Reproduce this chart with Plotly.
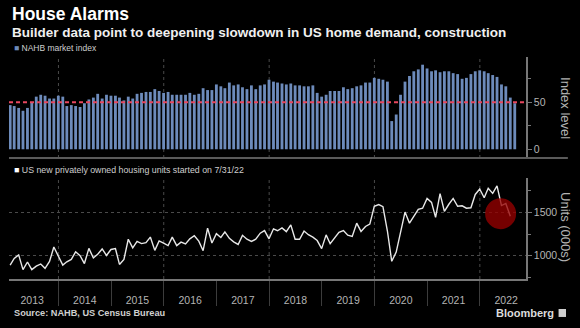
import pandas as pd
import plotly.graph_objects as go

# ---------------- data ----------------
nahb_index = [
    47, 46, 44, 41, 44, 50, 56, 58, 57, 54, 54, 57,   # 2013
    56, 46, 47, 46, 45, 49, 53, 55, 59, 54, 58, 57,   # 2014
    57, 55, 52, 56, 54, 59, 60, 61, 61, 64, 62, 60,   # 2015
    61, 58, 58, 58, 58, 60, 58, 59, 65, 63, 63, 69,   # 2016
    67, 65, 71, 68, 69, 66, 64, 68, 64, 68, 69, 74,   # 2017
    72, 71, 70, 69, 70, 68, 68, 67, 67, 68, 60, 56,   # 2018
    58, 62, 62, 62, 66, 64, 65, 67, 68, 71, 71, 76,   # 2019
    75, 74, 72, 30, 37, 58, 72, 78, 83, 85, 90, 86,   # 2020
    83, 84, 82, 83, 83, 81, 80, 75, 76, 80, 83, 84,   # 2021
    83, 81, 79, 77, 69, 67, 55, 49,                   # 2022
]
housing_starts = [
    892, 969, 1010, 840, 928, 840, 880, 905, 855, 935, 1100, 1005,      # 2013
    892, 930, 958, 1045, 1000, 910, 1085, 975, 1018, 1078, 1003, 1072,  # 2014
    1083, 900, 958, 1190, 1090, 1165, 1140, 1150, 1215, 1062, 1170, 1145,  # 2015
    1117, 1215, 1117, 1157, 1137, 1195, 1230, 1168, 1058, 1318, 1146, 1255,  # 2016
    1210, 1275, 1200, 1160, 1130, 1235, 1190, 1165, 1190, 1260, 1290, 1195,  # 2017
    1310, 1288, 1320, 1278, 1356, 1190, 1190, 1284, 1242, 1214, 1175, 1082,  # 2018
    1240, 1138, 1200, 1270, 1290, 1236, 1222, 1375, 1280, 1337, 1365, 1570,  # 2019
    1590, 1566, 1285, 936, 1042, 1255, 1503, 1375, 1455, 1534, 1547, 1660,   # 2020
    1615, 1442, 1716, 1511, 1593, 1660, 1570, 1575, 1548, 1552, 1706, 1769,  # 2021
    1668, 1777, 1718, 1804, 1578, 1602, 1455,                                # 2022
]
first_month_end = "2013-01-31"
nahb_dates = pd.date_range(first_month_end, periods=len(nahb_index), freq="ME")
starts_dates = pd.date_range(first_month_end, periods=len(housing_starts), freq="ME")

grid_years = ["2014-01-01", "2016-01-01", "2018-01-01", "2020-01-01", "2022-01-01"]
threshold = 50

title = "House Alarms"
subtitle = "Builder data point to deepening slowdown in US home demand, construction"
legend_top = "NAHB market index"
legend_bottom = "US new privately owned housing units started on 7/31/22"
source = "Source: NAHB, US Census Bureau"

# ---------------- style ----------------
BAR = "#6d8bbb"
LINE = "#e8e8e8"
RED = "#e8475f"
GRID = "#4a4a4a"
AXIS = "#777777"
TXT = "#b4b4b4"
FONT = "Liberation Sans, Arial, sans-serif"

fig = go.Figure()
fig.add_trace(go.Bar(x=nahb_dates, y=nahb_index, marker=dict(color=BAR, line_width=0),
                     xaxis="x", yaxis="y", showlegend=False, hoverinfo="skip"))
fig.add_trace(go.Scatter(x=starts_dates, y=housing_starts, mode="lines",
                         line=dict(color=LINE, width=1.4), xaxis="x2", yaxis="y2",
                         showlegend=False, hoverinfo="skip"))

xrange = ["2013-01-23", "2022-11-17"]
fig.update_layout(
    width=580, height=328,
    margin=dict(l=9, r=54, t=57, b=49),
    paper_bgcolor="black", plot_bgcolor="black",
    font=dict(family=FONT, color=TXT, size=10),
    bargap=0.3,
    xaxis=dict(domain=[0, 1], anchor="y", range=xrange, matches="x2",
               showticklabels=False, ticks="", showgrid=False, zeroline=False, showline=False),
    yaxis=dict(domain=[0.545, 1], anchor="x", side="right", range=[-9.3, 98.2],
               tickvals=[0, 50], ticks="outside", ticklen=4, tickcolor=AXIS,
               showline=True, linecolor=AXIS, linewidth=1.5, showgrid=False, zeroline=False,
               tickfont=dict(size=10.5, color=TXT),
               minor=dict(tickvals=[25, 75], ticks="outside", ticklen=3, tickcolor=AXIS)),
    xaxis2=dict(domain=[0, 1], anchor="y2", range=xrange, type="date",
                tick0="2013-01-01", dtick="M12", tickformat="%Y", ticklabelmode="period",
                ticks="outside", ticklen=25, tickcolor="#3c3c3c", tickwidth=1,
                ticklabelstandoff=-14,
                tickfont=dict(size=10.5, color=TXT),
                showline=True, linecolor=AXIS, linewidth=1.5, showgrid=False, zeroline=False),
    yaxis2=dict(domain=[0, 0.4563], anchor="x2", side="right", range=[732, 1899],
                tickvals=[1000, 1500], ticks="outside", ticklen=4, tickcolor=AXIS,
                showline=True, linecolor=AXIS, linewidth=1.5,
                showgrid=True, gridcolor=GRID, griddash="dot", gridwidth=1, zeroline=False,
                tickfont=dict(size=10.5, color=TXT),
                minor=dict(tickvals=[750, 1250, 1750], ticks="outside", ticklen=3,
                           tickcolor=AXIS, showgrid=False)),
)

shapes = []
for g in grid_years:
    for xr, yr in (("x", "y domain"), ("x2", "y2 domain")):
        shapes.append(dict(type="line", xref=xr, yref=yr, x0=g, x1=g, y0=0, y1=1,
                           line=dict(color=GRID, width=1, dash="dot"), layer="below"))
# threshold line at 50
shapes.append(dict(type="line", xref="paper", yref="y", x0=0, x1=1, y0=threshold, y1=threshold,
                   line=dict(color=RED, width=2, dash="4px,3px"), layer="above"))
# separator under top panel
shapes.append(dict(type="line", xref="paper", yref="y domain", x0=0, x1=1.081, y0=0, y1=0,
                   line=dict(color="#5a5a5a", width=2), layer="above"))
# highlight circle
shapes.append(dict(type="circle", xref="x2", yref="y2", xsizemode="pixel", ysizemode="pixel",
                   xanchor="2022-05-25", yanchor=1485, x0=-15.5, x1=15.5, y0=-15.5, y1=15.5,
                   fillcolor="rgba(150,0,0,0.78)", line=dict(width=0), layer="above"))
# bloomberg icon
shapes.append(dict(type="rect", xref="paper", yref="paper", x0=1.063, x1=1.0774, y0=-0.171, y1=-0.135,
                   fillcolor="#cfcfcf", line=dict(width=0)))
fig.update_layout(shapes=shapes)

ann = [
    dict(text="<b>%s</b>" % title, x=0.002, y=1.1937, font=dict(size=17.5, color="white")),
    dict(text="<b>%s</b>" % subtitle, x=0.002, y=1.1126, font=dict(size=13.5, color="#f0f0f0")),
    dict(text='<span style="color:%s">■</span> %s' % (BAR, legend_top), x=0.006, y=1.0405,
         font=dict(size=8.5, color="#cfcfcf")),
    dict(text='<span style="color:white">■</span> %s' % legend_bottom, x=0.006, y=0.491,
         font=dict(size=8.8, color="#cfcfcf")),
    dict(text="<b>%s</b>" % source, x=0.006, y=-0.153, font=dict(size=9.2, color="#d0d0d0")),
    dict(text="<b>Bloomberg</b>", x=1.058, y=-0.153, xanchor="right", font=dict(size=11, color="#dcdcdc")),
    dict(text="Index level", x=1.0774, y=0.770, xanchor="center", textangle=90,
         font=dict(size=13, color=TXT)),
    dict(text="Units (000s)", x=1.0774, y=0.234, xanchor="center", textangle=90,
         font=dict(size=13, color=TXT)),
]
for a in ann:
    a.setdefault("xanchor", "left")
    a.update(xref="paper", yref="paper", yanchor="middle", showarrow=False)
fig.update_layout(annotations=ann)

fig.write_html("out.html")
